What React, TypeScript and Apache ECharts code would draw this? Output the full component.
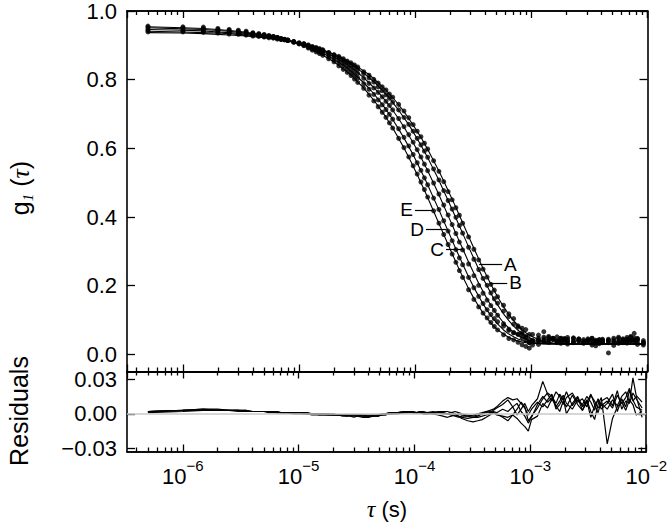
import React, { useEffect, useRef } from 'react';
import * as echarts from 'echarts';

// Lag times (microseconds), multi-tau correlator channels
const tauMicro = [
  0.5, 1, 1.5, 2, 2.5, 3, 3.5, 4, 4.5, 5, 5.5, 6, 6.5, 7, 7.5, 8,
  9, 10, 11, 12, 13, 14, 15, 16,
  18, 20, 22, 24, 26, 28, 30, 32,
  36, 40, 44, 48, 52, 56, 60, 64,
  72, 80, 88, 96, 104, 112, 120, 128,
  144, 160, 176, 192, 208, 224, 240, 256,
  288, 320, 352, 384, 416, 448, 480, 512,
  576, 640, 704, 768, 832, 896, 960, 1024,
  1152, 1280, 1408, 1536, 1664, 1792, 1920, 2048,
  2304, 2560, 2816, 3072, 3328, 3584, 3840, 4096,
  4608, 5120, 5632, 6144, 6656, 7168, 7680, 8192,
  9216,
];

// Fitted g1(tau) curves
const fitA = [
  0.941, 0.939, 0.937, 0.936, 0.934, 0.932, 0.930, 0.928, 0.926, 0.924, 0.923, 0.921, 0.919, 0.917, 0.915, 0.913,
  0.910, 0.906, 0.904, 0.900, 0.896, 0.893, 0.889, 0.886,
  0.879, 0.872, 0.865, 0.858, 0.851, 0.844, 0.838, 0.831,
  0.819, 0.806, 0.794, 0.781, 0.769, 0.757, 0.746, 0.734,
  0.711, 0.689, 0.669, 0.648, 0.628, 0.609, 0.591, 0.573,
  0.538, 0.507, 0.476, 0.448, 0.422, 0.397, 0.374, 0.353,
  0.313, 0.279, 0.248, 0.221, 0.199, 0.178, 0.159, 0.144,
  0.118, 0.098, 0.082, 0.070, 0.061, 0.054, 0.049, 0.044,
  0.039, 0.035, 0.033, 0.032, 0.031, 0.031, 0.030, 0.030,
  0.030, 0.030, 0.030, 0.030, 0.030, 0.030, 0.030, 0.030,
  0.030, 0.030, 0.030, 0.030, 0.030, 0.030, 0.030, 0.030,
  0.030,
];
const fitB = [
  0.937, 0.936, 0.934, 0.932, 0.930, 0.929, 0.927, 0.925, 0.924, 0.922, 0.920, 0.919, 0.917, 0.916, 0.915, 0.913,
  0.910, 0.906, 0.903, 0.900, 0.896, 0.893, 0.890, 0.887,
  0.880, 0.874, 0.869, 0.862, 0.856, 0.850, 0.844, 0.838,
  0.825, 0.815, 0.803, 0.791, 0.780, 0.770, 0.758, 0.748,
  0.727, 0.707, 0.687, 0.668, 0.649, 0.632, 0.614, 0.597,
  0.564, 0.534, 0.505, 0.477, 0.452, 0.428, 0.405, 0.383,
  0.344, 0.309, 0.278, 0.250, 0.226, 0.204, 0.185, 0.167,
  0.139, 0.116, 0.098, 0.084, 0.072, 0.063, 0.056, 0.051,
  0.043, 0.038, 0.035, 0.033, 0.032, 0.031, 0.031, 0.030,
  0.030, 0.030, 0.030, 0.030, 0.030, 0.030, 0.030, 0.030,
  0.030, 0.030, 0.030, 0.030, 0.030, 0.030, 0.030, 0.030,
  0.030,
];
const fitC = [
  0.946, 0.944, 0.942, 0.939, 0.937, 0.935, 0.933, 0.931, 0.929, 0.927, 0.925, 0.923, 0.921, 0.918, 0.916, 0.914,
  0.910, 0.906, 0.902, 0.898, 0.894, 0.890, 0.886, 0.882,
  0.874, 0.866, 0.858, 0.851, 0.843, 0.835, 0.828, 0.820,
  0.806, 0.791, 0.777, 0.764, 0.750, 0.737, 0.724, 0.711,
  0.686, 0.662, 0.638, 0.616, 0.595, 0.574, 0.554, 0.535,
  0.498, 0.465, 0.433, 0.404, 0.377, 0.352, 0.329, 0.308,
  0.269, 0.236, 0.207, 0.183, 0.161, 0.143, 0.127, 0.114,
  0.092, 0.076, 0.064, 0.055, 0.049, 0.044, 0.040, 0.038,
  0.034, 0.032, 0.031, 0.031, 0.030, 0.030, 0.030, 0.030,
  0.030, 0.030, 0.030, 0.030, 0.030, 0.030, 0.030, 0.030,
  0.030, 0.030, 0.030, 0.030, 0.030, 0.030, 0.030, 0.030,
  0.030,
];
const fitD = [
  0.951, 0.948, 0.946, 0.943, 0.941, 0.938, 0.936, 0.934, 0.931, 0.929, 0.926, 0.924, 0.922, 0.919, 0.917, 0.915,
  0.909, 0.904, 0.900, 0.895, 0.890, 0.886, 0.881, 0.877,
  0.868, 0.859, 0.850, 0.842, 0.833, 0.824, 0.815, 0.807,
  0.791, 0.775, 0.759, 0.743, 0.728, 0.713, 0.699, 0.684,
  0.656, 0.630, 0.605, 0.581, 0.557, 0.535, 0.514, 0.494,
  0.455, 0.421, 0.388, 0.359, 0.332, 0.307, 0.284, 0.263,
  0.226, 0.195, 0.169, 0.147, 0.128, 0.113, 0.100, 0.089,
  0.071, 0.059, 0.051, 0.045, 0.040, 0.037, 0.035, 0.034,
  0.032, 0.031, 0.030, 0.030, 0.030, 0.030, 0.030, 0.030,
  0.030, 0.030, 0.030, 0.030, 0.030, 0.030, 0.030, 0.030,
  0.030, 0.030, 0.030, 0.030, 0.030, 0.030, 0.030, 0.030,
  0.030,
];
const fitE = [
  0.954, 0.951, 0.949, 0.946, 0.943, 0.941, 0.938, 0.934, 0.932, 0.929, 0.926, 0.924, 0.921, 0.918, 0.916, 0.913,
  0.908, 0.903, 0.898, 0.892, 0.886, 0.881, 0.876, 0.871,
  0.861, 0.852, 0.841, 0.831, 0.822, 0.813, 0.803, 0.793,
  0.776, 0.757, 0.740, 0.723, 0.706, 0.691, 0.674, 0.659,
  0.629, 0.601, 0.574, 0.548, 0.524, 0.500, 0.478, 0.457,
  0.417, 0.381, 0.349, 0.320, 0.293, 0.269, 0.246, 0.227,
  0.192, 0.163, 0.140, 0.120, 0.105, 0.091, 0.080, 0.072,
  0.059, 0.049, 0.043, 0.039, 0.036, 0.034, 0.033, 0.032,
  0.031, 0.030, 0.030, 0.030, 0.030, 0.030, 0.030, 0.030,
  0.030, 0.030, 0.030, 0.030, 0.030, 0.030, 0.030, 0.030,
  0.030, 0.030, 0.030, 0.030, 0.030, 0.030, 0.030, 0.030,
  0.030,
];

// Residuals (data - fit)
const resA = [
  0.002, 0.003, 0.003, 0.003, 0.003, 0.003, 0.002, 0.002, 0.002, 0.002, 0.002, 0.002, 0.002, 0.001, 0.001, 0.001,
  0.001, 0.001, 0.001, 0.001, 0, 0, 0, 0,
  0, -0.001, -0.001, -0.001, -0.001, -0.001, -0.001, -0.001,
  -0.001, -0.001, -0.001, -0.002, -0.001, -0.001, 0, 0,
  0.001, 0.001, 0.001, 0.002, 0.001, 0.001, 0.001, 0.001,
  0.002, 0.001, 0.001, 0, 0.001, 0.002, 0.001, 0,
  -0.001, -0.002, -0.001, 0, 0.002, 0.001, 0.003, 0.005,
  0.008, 0.012, 0.006, 0.009, 0.002, -0.002, -0.008, -0.003,
  0.008, 0.015, 0.010, 0.014, 0.006, 0.011, 0.016, 0.009,
  0.004, 0.012, 0.008, 0.015, 0.010, 0.003, 0.013, 0.007,
  0.011, 0.005, 0.016, 0.009, 0.014, 0.022, 0.012, 0.006,
  0.003,
];
const resB = [
  0.002, 0.003, 0.004, 0.004, 0.003, 0.003, 0.003, 0.002, 0.002, 0.002, 0.002, 0.002, 0.001, 0.001, 0.001, 0.001,
  0.001, 0.001, 0.001, 0, 0, 0, 0, 0,
  -0.001, -0.001, -0.001, -0.001, -0.002, -0.001, -0.001, -0.001,
  -0.002, -0.002, -0.002, -0.001, -0.001, 0, 0, 0.001,
  0.001, 0.002, 0.002, 0.001, 0.001, 0.002, 0.001, 0.001,
  0, -0.001, -0.002, -0.003, -0.002, -0.001, 0, -0.001,
  -0.002, -0.003, -0.003, -0.002, -0.001, 0, 0.002, 0.001,
  0.004, 0.002, 0.006, -0.001, 0.004, 0.009, 0.002, 0.007,
  0.013, 0.028, 0.017, 0.011, 0.019, 0.015, 0.008, 0.014,
  0.018, 0.010, 0.013, 0.006, 0.016, 0.011, 0.005, 0.009,
  0.004, 0.012, 0.007, 0.015, 0.019, 0.010, 0.031, 0.016,
  0.010,
];
const resC = [
  0.001, 0.002, 0.003, 0.003, 0.003, 0.002, 0.002, 0.002, 0.002, 0.002, 0.001, 0.001, 0.001, 0.001, 0.001, 0.001,
  0, 0, 0, 0, -0.001, -0.001, -0.001, -0.001,
  -0.001, -0.001, -0.001, -0.002, -0.002, -0.002, -0.003, -0.002,
  -0.002, -0.002, -0.001, -0.001, 0, 0, 0.001, 0.001,
  0.001, 0.001, 0.002, 0.002, 0.001, 0.001, 0, 0,
  0.001, 0.002, 0.002, 0.002, 0.001, 0, -0.002, -0.004,
  -0.006, -0.007, -0.006, -0.005, -0.003, -0.001, 0.001, 0,
  -0.003, -0.006, -0.001, 0.004, 0.010, 0.006, -0.006, -0.002,
  0.005, 0.013, 0.018, 0.015, 0.009, 0.017, 0.012, 0.019,
  0.007, 0.014, 0.003, 0.010, 0.017, 0.008, 0.001, 0.011,
  0.014, 0.007, 0.020, 0.004, 0.011, 0.009, 0.018, 0.013,
  0.005,
];
const resD = [
  0.002, 0.003, 0.003, 0.003, 0.003, 0.003, 0.002, 0.002, 0.002, 0.002, 0.002, 0.002, 0.001, 0.001, 0.001, 0.001,
  0.001, 0.001, 0, 0, 0, 0, -0.001, -0.001,
  -0.001, -0.001, -0.001, -0.001, -0.001, -0.002, -0.002, -0.002,
  -0.003, -0.003, -0.002, -0.002, -0.001, 0, 0, 0.001,
  0.001, 0.002, 0.002, 0.001, 0.001, 0.001, 0, 0,
  0, 0.001, 0.001, 0, -0.001, -0.002, -0.003, -0.002,
  -0.002, -0.001, 0, 0.001, 0.002, 0.003, 0.004, 0.006,
  0.011, 0.014, 0.012, 0.013, 0.009, 0.005, -0.001, 0.004,
  0.010, 0.006, 0.012, 0.017, 0.004, 0.008, 0.014, 0,
  0.009, 0.015, 0.006, 0.012, 0.002, -0.005, 0.008, 0.014,
  -0.026, -0.004, 0.006, 0.010, 0.003, 0.012, 0.008, -0.001,
  0.002,
];
const resE = [
  0.002, 0.003, 0.004, 0.003, 0.003, 0.003, 0.003, 0.002, 0.002, 0.002, 0.002, 0.002, 0.002, 0.001, 0.001, 0.001,
  0.001, 0.001, 0.001, 0, 0, 0, 0, 0,
  0, 0, -0.001, -0.001, -0.001, -0.001, -0.001, -0.001,
  -0.001, -0.002, -0.002, -0.002, -0.001, -0.001, 0, 0,
  0, 0.001, 0.001, 0.001, 0.001, 0.002, 0.002, 0.001,
  0.001, 0.001, 0, 0, -0.001, -0.001, -0.002, -0.003,
  -0.004, -0.003, -0.002, 0, 0.001, 0.002, 0.001, -0.001,
  -0.002, -0.003, -0.001, -0.004, -0.008, -0.011, -0.015, -0.005,
  -0.002, 0.009, 0.005, 0.013, 0.007, 0.002, 0.011, 0.006,
  0.016, 0.008, 0.003, 0.011, -0.003, 0.007, 0.012, 0.004,
  0.009, 0.017, 0.002, 0.013, 0.006, 0.020, 0.011, 0.015,
  -0.003,
];

// Curve label annotations
const curveNames = ['A', 'B', 'C', 'D', 'E'];
const labelG = [0.261, 0.208, 0.306, 0.363, 0.421];
const labelTauFrom = [3.55e-4, 4.5e-4, 1.84e-4, 1.237e-4, 9.94e-5];
const labelTauTo = [5.6e-4, 6.2e-4, 2.6e-4, 1.86e-4, 1.41e-4];
const labelSide = ['end', 'end', 'start', 'start', 'start'];

// Axis ticks
const X_MIN = 3.3e-7;
const X_MAX = 1e-2;
const decades = [1e-7, 1e-6, 1e-5, 1e-4, 1e-3];
const minorMantissas = [2, 3, 4, 5, 6, 7, 8, 9];
const gTicks = [0, 0.2, 0.4, 0.6, 0.8, 1.0];
const resTicks = [-0.03, 0, 0.03];
const G_MIN = -0.05;
const G_MAX = 1.0;
const R_MIN = -0.0325;
const R_MAX = 0.0365;

const FONT = "'Liberation Sans', Arial, sans-serif";
const SERIF = "'Liberation Serif', 'Times New Roman', serif";

export default function App() {
  const ref = useRef<HTMLDivElement>(null);
  useEffect(() => {
    const chart = echarts.init(ref.current!, null, { renderer: 'svg' });
    const minorTicks: number[] = [];
    decades.forEach((d) => minorMantissas.forEach((m) => {
      const v = d * m;
      if (v > X_MIN && v < X_MAX) minorTicks.push(v);
    }));
    const tau = tauMicro.map((t) => t * 1e-6);
    const fits = [fitA, fitB, fitC, fitD, fitE];
    const res = [resA, resB, resC, resD, resE];

    const axisLine = { show: true, onZero: false, lineStyle: { color: '#000', width: 1.6 } };
    const tickStyle = { color: '#000', width: 1.3 };
    const mkX = (grid: number, pos: string, minor: boolean, labels: boolean) => ({
      type: 'log',
      logBase: 10,
      gridIndex: grid,
      position: pos,
      min: X_MIN,
      max: X_MAX,
      axisLine,
      splitLine: { show: false },
      axisTick: minor
        ? { show: true, inside: true, length: 4, customValues: minorTicks, lineStyle: tickStyle }
        : { show: true, inside: true, length: 7, lineStyle: tickStyle },
      axisLabel: labels
        ? {
            show: true,
            margin: 6,
            showMinLabel: false,
            formatter: (v: number) => {
              const l = Math.log10(v);
              const e = Math.round(l);
              if (Math.abs(l - e) > 1e-6) return '';
              return `{b|10}{s|−${-e}}`;
            },
            rich: {
              b: { fontSize: 22, lineHeight: 38, fontFamily: FONT, color: '#000' },
              s: { fontSize: 15, lineHeight: 14, verticalAlign: 'top', fontFamily: FONT, color: '#000' },
            },
          }
        : { show: false },
    });
    const mkY = (grid: number, pos: string, min: number, max: number, ticks: number[], labels: boolean, dec: number) => ({
      type: 'value',
      gridIndex: grid,
      position: pos,
      min,
      max,
      axisLine,
      splitLine: { show: false },
      axisTick: { show: true, inside: true, length: 8, customValues: ticks, lineStyle: tickStyle },
      axisLabel: labels
        ? {
            show: true,
            customValues: ticks,
            margin: 10,
            fontSize: 22,
            fontFamily: FONT,
            color: '#000',
            formatter: (v: number) => (v < 0 ? '−' + Math.abs(v).toFixed(dec) : v.toFixed(dec)),
          }
        : { show: false },
    });

    const series: any[] = [];
    curveNames.forEach((name, k) => {
      const fitData = tau.map((t, i) => [t, fits[k][i]]);
      const pts = tau.map((t, i) => [t, +(fits[k][i] + res[k][i]).toFixed(4)]);
      series.push({
        name: 'fit ' + name,
        type: 'line',
        xAxisIndex: 0,
        yAxisIndex: 0,
        data: fitData,
        showSymbol: false,
        symbol: 'none',
        lineStyle: { color: '#000', width: 1.1 },
        z: 2,
        markLine: {
          silent: true,
          symbol: ['none', 'none'],
          lineStyle: { color: '#000', width: 1.2, type: 'solid' },
          label: {
            show: true,
            position: labelSide[k],
            formatter: name,
            color: '#000',
            fontSize: 19,
            lineHeight: 15,
            fontFamily: FONT,
            distance: 2,
          },
          data: [[{ coord: [labelTauFrom[k], labelG[k]] }, { coord: [labelTauTo[k], labelG[k]] }]],
        },
      });
      series.push({
        name: 'data ' + name,
        type: 'scatter',
        xAxisIndex: 0,
        yAxisIndex: 0,
        data: pts,
        symbol: 'circle',
        symbolSize: 5,
        itemStyle: { color: '#000' },
        z: 3,
      });
    });
    series.push({
      name: 'zero',
      type: 'line',
      xAxisIndex: 4,
      yAxisIndex: 2,
      data: [],
      z: 1,
      markLine: {
        silent: true,
        symbol: ['none', 'none'],
        label: { show: false },
        lineStyle: { color: '#c8c8c8', width: 1.5, type: 'solid' },
        data: [{ yAxis: 0 }],
      },
    });
    curveNames.forEach((name, k) => {
      series.push({
        name: 'residual ' + name,
        type: 'line',
        xAxisIndex: 4,
        yAxisIndex: 2,
        data: tau.map((t, i) => [t, res[k][i]]),
        showSymbol: false,
        symbol: 'none',
        lineStyle: { color: '#000', width: 1.2 },
        z: 2,
      });
    });

    chart.setOption({
      animation: false,
      backgroundColor: '#fff',
      textStyle: { fontFamily: FONT },
      grid: [
        { left: 127, right: 22.5, top: 10.5, height: 361, containLabel: false },
        { left: 127, right: 22.5, top: 371.5, height: 80, containLabel: false },
      ],
      xAxis: [
        mkX(0, 'bottom', false, false),
        mkX(0, 'bottom', true, false),
        mkX(0, 'top', false, false),
        mkX(0, 'top', true, false),
        mkX(1, 'bottom', false, true),
        mkX(1, 'bottom', true, false),
        mkX(1, 'top', false, false),
        mkX(1, 'top', true, false),
      ],
      yAxis: [
        mkY(0, 'left', G_MIN, G_MAX, gTicks, true, 1),
        mkY(0, 'right', G_MIN, G_MAX, gTicks, false, 1),
        mkY(1, 'left', R_MIN, R_MAX, resTicks, true, 2),
        mkY(1, 'right', R_MIN, R_MAX, resTicks, false, 2),
      ],
      graphic: [
        {
          type: 'text',
          x: 20,
          y: 188,
          rotation: Math.PI / 2,
          style: {
            text: '{g|g}{sub|1}{n| (}{t|τ}{n|)}',
            align: 'center',
            verticalAlign: 'middle',
            textAlign: 'center',
            textVerticalAlign: 'middle',
            fill: '#000',
            rich: {
              g: { fontSize: 25, fontFamily: FONT, lineHeight: 30, fill: '#000' },
              sub: { fontSize: 15, fontFamily: SERIF, fontStyle: 'italic', lineHeight: 14, verticalAlign: 'bottom', fill: '#000' },
              n: { fontSize: 25, fontFamily: FONT, lineHeight: 30, fill: '#000' },
              t: { fontSize: 26, fontFamily: SERIF, fontStyle: 'italic', lineHeight: 30, fill: '#000' },
            },
          },
        },
        {
          type: 'text',
          x: 19,
          y: 411,
          rotation: Math.PI / 2,
          style: {
            text: 'Residuals',
            align: 'center',
            verticalAlign: 'middle',
            textAlign: 'center',
            textVerticalAlign: 'middle',
            fill: '#000',
            font: `25px ${FONT}`,
          },
        },
        {
          type: 'text',
          x: 387,
          y: 509,
          style: {
            text: '{t|τ}{n| (s)}',
            align: 'center',
            verticalAlign: 'middle',
            textAlign: 'center',
            textVerticalAlign: 'middle',
            fill: '#000',
            rich: {
              t: { fontSize: 24, fontFamily: SERIF, fontStyle: 'italic', fill: '#000' },
              n: { fontSize: 22, fontFamily: FONT, fill: '#000' },
            },
          },
        },
      ],
      series,
    });
    return () => chart.dispose();
  }, []);
  return (
    <div
      ref={ref}
      style={{ position: 'fixed', left: 0, top: 0, width: 670, height: 524, background: '#fff' }}
    />
  );
}
